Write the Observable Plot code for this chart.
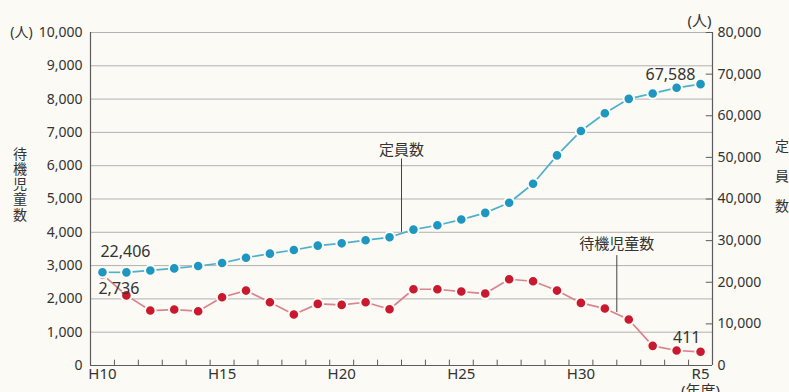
<!DOCTYPE html>
<html>
<head>
<meta charset="utf-8">
<script src="https://cdn.jsdelivr.net/npm/d3@7"></script>
<script src="https://cdn.jsdelivr.net/npm/@observablehq/plot@0.6"></script>
<style>
  html, body { margin: 0; padding: 0; background: #fbfaf4; }
  #chart svg { display: block; background: transparent; }
  #chart g[aria-description="vertical-title"] text {
    writing-mode: vertical-rl;
    text-orientation: upright;
  }
</style>
</head>
<body>
<div id="chart"></div>
<script>
// Fiscal years (平成10年度 … 令和5年度)
const years = ["H10","H11","H12","H13","H14","H15","H16","H17","H18","H19","H20",
               "H21","H22","H23","H24","H25","H26","H27","H28","H29","H30",
               "R1","R2","R3","R4","R5"];

// 待機児童数 (left axis, 人)
const waiting = [2736, 2105, 1650, 1680, 1630, 2050, 2250, 1900, 1530, 1850, 1820,
                 1900, 1690, 2290, 2290, 2220, 2160, 2590, 2530, 2250, 1880,
                 1710, 1380, 590, 450, 411];

// 定員数 (right axis, 人)
const capacity = [22406, 22380, 22840, 23330, 23900, 24620, 25900, 26870, 27750, 28800, 29350,
                  30100, 30800, 32650, 33690, 35060, 36670, 39100, 43670, 50490, 56350,
                  60610, 64060, 65360, 66710, 67588];

const leftTicks = [0, 1000, 2000, 3000, 4000, 5000, 6000, 7000, 8000, 9000, 10000];
const rightTicks = [0, 10000, 20000, 30000, 40000, 50000, 60000, 70000, 80000];
const labeledYears = ["H10", "H15", "H20", "H25", "H30", "R5"];

// the right axis runs 8× the left axis
const RATIO = 8;

const rows = years.map((year, i) => ({
  year, i,
  waiting: waiting[i],
  capacity: capacity[i],
  capacityOnLeft: capacity[i] / RATIO
}));

const FONT = "'Noto Sans', 'Noto Sans CJK JP', sans-serif";
const INK = "#333";
const AXIS = "#5c5c5c";
const GRID = "#a9a9a9";
const BG = "#fbfaf4";
const BLUE = "#1d97c2", BLUE_LINE = "#4fb0cc";
const RED = "#c8192f", RED_LINE = "#d9848f";
const fmt = d3.format(",");

const xMin = -0.5, xMax = years.length - 0.5;
const bandEdges = d3.range(0.5, years.length - 1, 1);
const last = rows[rows.length - 1], first = rows[0];

// free-standing labels placed relative to the plot frame
const frameLabel = (text, frameAnchor, dx, dy, extra = {}) =>
  Plot.text([text], { frameAnchor, dx, dy, textAnchor: "middle", lineAnchor: "middle",
                      fill: INK, fontSize: 14, ...extra });

// vertical (縦書き) axis titles; letter spacing is applied after rendering
const titleSpacing = { "待機児童数": 1.3, "定員数": 16 };
const verticalTitle = (text, frameAnchor, dx, dy) =>
  frameLabel(text, frameAnchor, dx, dy, { ariaDescription: "vertical-title" });

// dots with a thin halo so the connecting line stops short of each marker
const markers = (y, fill) =>
  Plot.dot(rows, { x: "i", y, r: 5.3, fill, stroke: BG, strokeWidth: 2 });

const chart = Plot.plot({
  width: 789,
  height: 392,
  marginLeft: 90,
  marginRight: 77,
  marginTop: 32,
  marginBottom: 27,
  style: { fontFamily: FONT, color: INK, background: "transparent" },
  x: { domain: [xMin, xMax], axis: null },
  y: { domain: [0, 10000], axis: null },
  marks: [
    // horizontal grid
    Plot.ruleY(leftTicks.filter(d => d > 0), { stroke: GRID, strokeWidth: 0.9 }),
    // axis lines
    Plot.ruleX([xMin, xMax], { stroke: AXIS, strokeWidth: 1.2 }),
    Plot.ruleY([0], { stroke: AXIS, strokeWidth: 1.2 }),
    // inward ticks on the year axis at band edges
    Plot.ruleX(bandEdges, { y1: 0, y2: 160, stroke: AXIS, strokeWidth: 1 }),
    // inward ticks on the right axis
    Plot.ruleY(rightTicks.map(d => d / RATIO), { x1: xMax - 0.26, x2: xMax, stroke: AXIS, strokeWidth: 1 }),

    // left axis labels
    Plot.axisY(leftTicks, {
      anchor: "left", tickSize: 0, tickPadding: 8, tickFormat: fmt,
      fontSize: 14, fill: INK, label: null
    }),
    // right axis labels
    Plot.axisY(rightTicks.map(d => d / RATIO), {
      anchor: "right", tickSize: 0, tickPadding: 5,
      tickFormat: d => fmt(Math.round(d * RATIO)),
      fontSize: 14, fill: INK, label: null
    }),
    // year labels
    Plot.axisX(labeledYears.map(y => years.indexOf(y)), {
      anchor: "bottom", tickSize: 0, tickPadding: 3,
      tickFormat: i => years[i], fontSize: 15, fill: INK, label: null
    }),

    // 待機児童数 series
    Plot.line(rows, { x: "i", y: "waiting", stroke: RED_LINE, strokeWidth: 1.7 }),
    markers("waiting", RED),

    // 定員数 series
    Plot.line(rows, { x: "i", y: "capacityOnLeft", stroke: BLUE_LINE, strokeWidth: 1.7 }),
    markers("capacityOnLeft", BLUE),

    // value callouts at the first and last years
    Plot.text([first], { x: "i", y: "capacityOnLeft", text: d => fmt(d.capacity),
      textAnchor: "start", dx: -2, dy: -20, fontSize: 16, fill: INK }),
    Plot.text([first], { x: "i", y: "waiting", text: d => fmt(d.waiting),
      textAnchor: "start", dx: -4, dy: 14, fontSize: 16, fill: INK }),
    Plot.text([last], { x: "i", y: "capacityOnLeft", text: d => fmt(d.capacity),
      textAnchor: "end", dx: -5, dy: -9, fontSize: 16, fill: INK }),
    Plot.text([last], { x: "i", y: "waiting", text: d => fmt(d.waiting),
      textAnchor: "end", dx: 0, dy: -14, fontSize: 16, fill: INK }),

    // series name callouts with leader lines
    Plot.ruleX([12.5], { y1: 4000, y2: 6200, stroke: "#444", strokeWidth: 1 }),
    Plot.text(["定員数"], { x: 12.5, y: 6200, dy: -9, fontSize: 15, fill: INK }),
    Plot.ruleX([21.5], { y1: 1590, y2: 3300, stroke: "#444", strokeWidth: 1 }),
    Plot.text(["待機児童数"], { x: 21.5, y: 3300, dy: -11, fontSize: 15, fill: INK }),

    // units and axis titles
    frameLabel("(人)", "top-left", -69, 0),
    frameLabel("(人)", "top-right", -13, -11, { fontSize: 15 }),
    frameLabel("(年度)", "bottom-right", -12, 26, { fontSize: 15 }),
    verticalTitle("待機児童数", "left", -71, -19),
    verticalTitle("定員数", "right", 69, -20)
  ]
});

// vertical text is centred on its own axis; drop the horizontal baseline shift
d3.select(chart).selectAll('g[aria-description="vertical-title"] text')
  .attr("dy", null)
  .style("letter-spacing", function () { return `${titleSpacing[this.textContent] ?? 0}px`; });

document.getElementById("chart").append(chart);
</script>
</body>
</html>
